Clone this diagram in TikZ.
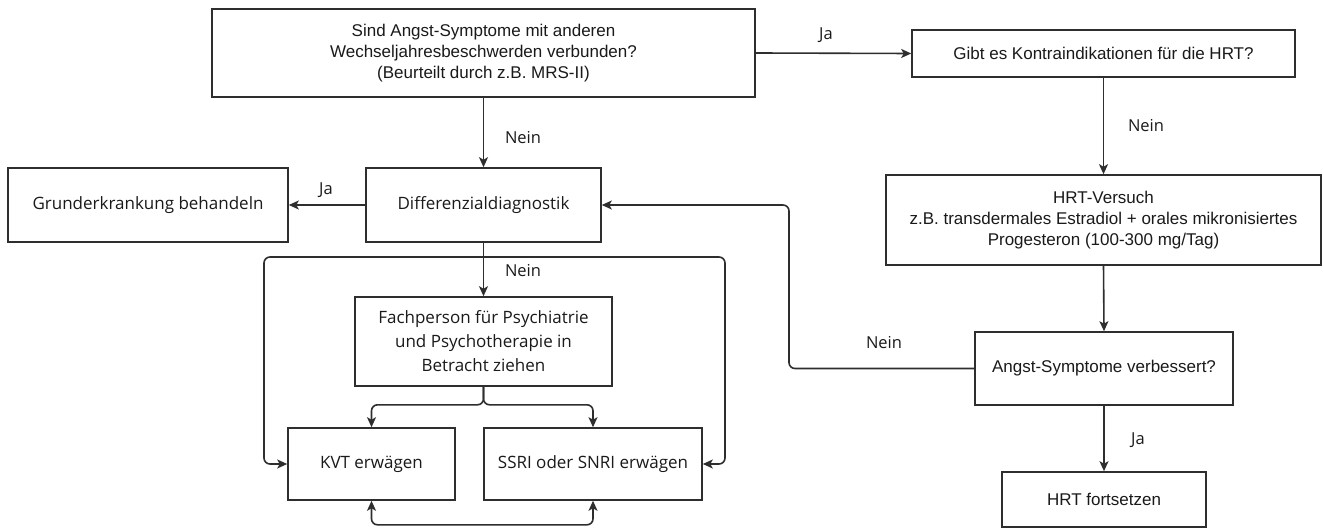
\documentclass[tikz,border=0pt]{standalone}
\usepackage{fontspec}
\setmainfont{Liberation Sans}
\newfontfamily\osfont{Open Sans}
\usetikzlibrary{arrows.meta,calc}
\definecolor{lc}{HTML}{2E2E2E}
\definecolor{tc}{HTML}{1A1A1A}
\tikzset{
  abox/.style={draw=lc, line width=1.6, inner sep=0, align=center, text=tc,
    font=\fontsize{17}{21}\selectfont},
  obox/.style={draw=lc, line width=1.6, inner sep=0, align=center, text=tc,
    font=\osfont\fontsize{17}{24}\selectfont},
  lbl/.style={inner sep=0, text=tc, font=\osfont\fontsize{16.5}{20}\selectfont},
  arr/.style={draw=lc, line width=1.6, -{Stealth[length=10,width=9,inset=2.5]}},
  darr/.style={draw=lc, line width=1.6, {Stealth[length=10,width=9,inset=2.5]}-{Stealth[length=10,width=9,inset=2.5]}}
}
\begin{document}
\begin{tikzpicture}[x=1pt,y=-1pt]
\useasboundingbox[fill=white] (0,0) rectangle (1324,529);
% boxes
\node[abox, minimum width=543, minimum height=88] (q1) at (483.5,53)
  {Sind Angst-Symptome mit anderen\\Wechseljahresbeschwerden verbunden?\\(Beurteilt durch z.B. MRS-II)};
\node[abox, minimum width=383, minimum height=47] (kontra) at (1103.5,53.5)
  {Gibt es Kontraindikationen für die HRT?};
\node[abox, minimum width=435, minimum height=90] (hrt) at (1103.5,220)
  {HRT-Versuch\\z.B. transdermales Estradiol + orales mikronisiertes\\Progesteron (100-300 mg/Tag)};
\node[abox, minimum width=258, minimum height=73] (angst) at (1104,368.5)
  {Angst-Symptome verbessert?};
\node[abox, minimum width=204, minimum height=55] (fort) at (1104,499.5)
  {HRT fortsetzen};
\node[obox, minimum width=235, minimum height=74] (diff) at (483.5,205)
  {Differenzialdiagnostik};
\node[obox, minimum width=280, minimum height=74] (grund) at (148,205)
  {Grunderkrankung behandeln};
\node[obox, minimum width=257, minimum height=89] (fach) at (483.5,341.5)
  {Fachperson für Psychiatrie\\und Psychotherapie in\\Betracht ziehen};
\node[obox, minimum width=167, minimum height=72] (kvt) at (371.5,464)
  {KVT erwägen};
\node[obox, minimum width=218, minimum height=72] (ssri) at (593,464)
  {SSRI oder SNRI erwägen};
% helper coordinates
\coordinate (j1) at (483.5,257);
\coordinate (kl) at (264,464);
\coordinate (kr) at (725,464);
\coordinate (rt) at (789,300);
% connectors
\draw[arr] (q1.east) -- (kontra.west);
\draw[arr] (kontra.south) -- (hrt.north);
\draw[arr] (hrt.south) -- (angst.north);
\draw[arr] (angst.south) -- (fort.north);
\draw[arr] (q1.south) -- (diff.north);
\draw[arr] (diff.west) -- (grund.east);
\draw[arr, rounded corners=6] (angst.west) -- (angst.west -| rt) |- (diff.east);
\draw[arr] (diff.south) -- (fach.north);
\draw[arr, rounded corners=6] (j1) -| (kl) -- (kvt.west);
\draw[arr, rounded corners=6] (j1) -| (kr) -- (ssri.east);
\draw[arr, rounded corners=6] (fach.south) -- ++(0,18) -| (kvt.north);
\draw[arr, rounded corners=6] (fach.south) -- ++(0,18) -| (ssri.north);
\draw[darr, rounded corners=6] (kvt.south) -- ++(0,24) -| (ssri.south);
% labels
\node[lbl] (l1) at (826,35) {Ja};
\node[lbl] (l2) at (523,138) {Nein};
\node[lbl] (l3) at (326,190) {Ja};
\node[lbl] (l4) at (523,271) {Nein};
\node[lbl] (l5) at (1146,126) {Nein};
\node[lbl] (l6) at (884,343) {Nein};
\node[lbl] (l7) at (1138,440) {Ja};
\end{tikzpicture}
\end{document}
